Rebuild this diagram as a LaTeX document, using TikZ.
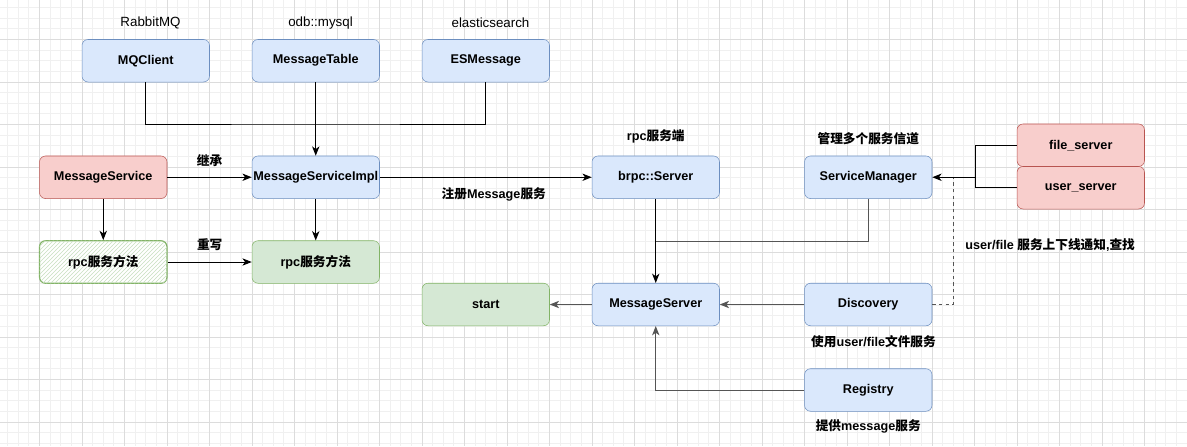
\documentclass[tikz,border=0pt]{standalone}
\usepackage{fontspec}
\setmainfont{Liberation Sans}
\newfontfamily\cjk{Noto Sans CJK SC}
\usetikzlibrary{arrows.meta,patterns,positioning}
\definecolor{blueFill}{HTML}{DAE8FC}
\definecolor{blueLine}{HTML}{6C8EBF}
\definecolor{redFill}{HTML}{F8CECC}
\definecolor{redLine}{HTML}{B85450}
\definecolor{greenFill}{HTML}{D5E8D4}
\definecolor{greenLine}{HTML}{82B366}
\definecolor{hatchGreen}{HTML}{C8DFC0}
\definecolor{edgeGray}{HTML}{555555}
\newcommand{\zh}[1]{{\cjk #1}}
\tikzstyle{box}=[
    rectangle,
    rounded corners=4.5pt,
    minimum width=95.6pt,
    minimum height=31.9pt,
    inner sep=1pt,
    text=black,
    font=\fontsize{9.5}{11}\selectfont\bfseries]
\tikzstyle{bluebox}=[box, draw=blueLine, fill=blueFill]
\tikzstyle{redbox}=[box, draw=redLine, fill=redFill]
\tikzstyle{greenbox}=[box, draw=greenLine, fill=greenFill]
\tikzstyle{hatchbox}=[box, draw=greenLine, line width=0.9pt, fill=white,
    postaction={pattern=north east lines, pattern color=hatchGreen}]
\tikzstyle{lbl}=[inner sep=0.75pt, font=\fontsize{9.5}{11}\selectfont\bfseries]
\tikzstyle{toplbl}=[inner sep=0.75pt, font=\fontsize{10}{12}\selectfont]
\tikzstyle{conn}=[-{Stealth[length=7pt,width=5.5pt,inset=2pt]}, line width=0.75pt]
\tikzstyle{minorline}=[draw={rgb,255:red,240;green,240;blue,240}, line width=0.6pt]
\tikzstyle{majorline}=[draw={rgb,255:red,220;green,220;blue,220}, line width=0.75pt]

\begin{document}
\begin{tikzpicture}[x=0.75pt,y=0.75pt,yscale=-1,xscale=1]
\useasboundingbox (0,0) rectangle (1187,446);
\fill[white] (0,0) rectangle (1187,446);

% background grid
\foreach \i in {0,...,112} { \draw[minorline] ({-3+10.625*\i},0) -- ({-3+10.625*\i},446); }
\foreach \j in {0,...,42} { \draw[minorline] (0,{-3+10.625*\j}) -- (1187,{-3+10.625*\j}); }
\foreach \i in {0,...,28} { \draw[majorline] ({-3+42.5*\i},0) -- ({-3+42.5*\i},446); }
\foreach \j in {0,...,10} { \draw[majorline] (0,{-3+42.5*\j}) -- (1187,{-3+42.5*\j}); }

% top row
\node[bluebox] (mqclient) at (145.75,60.75) {MQClient};
\node[bluebox] (msgtable) at (315.75,60.75) {MessageTable};
\node[bluebox] (esmsg) at (485.75,60.75) {ESMessage};
\node[toplbl] (rabbit) at (150.5,23) {RabbitMQ};
\node[toplbl] (odb) at (320.5,23) {odb::mysql};
\node[toplbl] (es) at (490.5,23) {elasticsearch};

% service row
\node[redbox] (msgservice) at (103.25,177.25) {MessageService};
\node[bluebox] (impl) at (315.75,177.25) {MessageServiceImpl};
\node[bluebox] (brpc) at (655.75,177.25) {brpc::Server};
\node[bluebox] (svcmgr) at (868.25,177.25) {ServiceManager};
\node[redbox] (filesrv) at (1080.75,145.25) {file\_server};
\node[redbox] (usersrv) at (1080.75,187.75) {user\_server};
\node[lbl] (rpcsrvlbl) at (655.75,136.5) {rpc\zh{服务端}};
\node[lbl] (mgrlbl) at (868.25,138.5) {\zh{管理多个服务信道}};

% rpc methods
\node[hatchbox] (rpcbase) at (103.25,262) {rpc\zh{服务方法}};
\node[greenbox] (rpcimpl) at (315.75,262) {rpc\zh{服务方法}};

% lower row
\node[greenbox] (start) at (485.75,304.5) {start};
\node[bluebox] (msgserver) at (655.75,304.5) {MessageServer};
\node[bluebox] (discovery) at (868.25,304.5) {Discovery};
\node[bluebox] (registry) at (868.25,390) {Registry};
\node[lbl] (disclbl) at (873.5,341.5) {\zh{使用}user/file\zh{文件服务}};
\node[lbl] (reglbl) at (868.25,426.5) {\zh{提供}message\zh{服务}};
\node[lbl, anchor=west] (notelbl) at (964,245.5) {user/file \zh{服务上下线通知},\zh{查找}};

% junction points
\coordinate (topjoin) at (315.75,124);
\coordinate (srvjoin) at (975,177.25);
\coordinate (dashjoin) at (953.5,177.25);
\coordinate (mgrjoin) at (655.75,241);

% connectors
\draw[line width=0.75pt] (mqclient.south) |- (topjoin) -| (esmsg.south);
\draw[conn] (msgtable) -- (impl);
\draw[conn] (msgservice) -- node[lbl, above=7pt] {\zh{继承}} (impl);
\draw[conn] (msgservice) -- (rpcbase);
\draw[conn] (impl) -- (rpcimpl);
\draw[conn] (rpcbase) -- node[lbl, above=7pt] {\zh{重写}} (rpcimpl);
\draw[conn] (impl) -- node[lbl, below=7pt, xshift=6pt] {\zh{注册}Message\zh{服务}} (brpc);
\draw[conn] (brpc) -- (msgserver);
\draw[line width=0.75pt, edgeGray] (svcmgr.south) |- (mgrjoin);
\draw[line width=0.75pt] (filesrv.west) -| (srvjoin) |- (usersrv.west);
\draw[dashed, dash pattern=on 2.5pt off 2.5pt, line width=0.75pt, edgeGray] (discovery.east) -| (dashjoin);
\draw[conn] (srvjoin) -- (svcmgr.east);
\draw[conn, edgeGray] (discovery) -- (msgserver);
\draw[conn, edgeGray] (msgserver) -- (start);
\draw[conn, edgeGray] (registry.west) -| (msgserver.south);

\end{tikzpicture}
\end{document}
